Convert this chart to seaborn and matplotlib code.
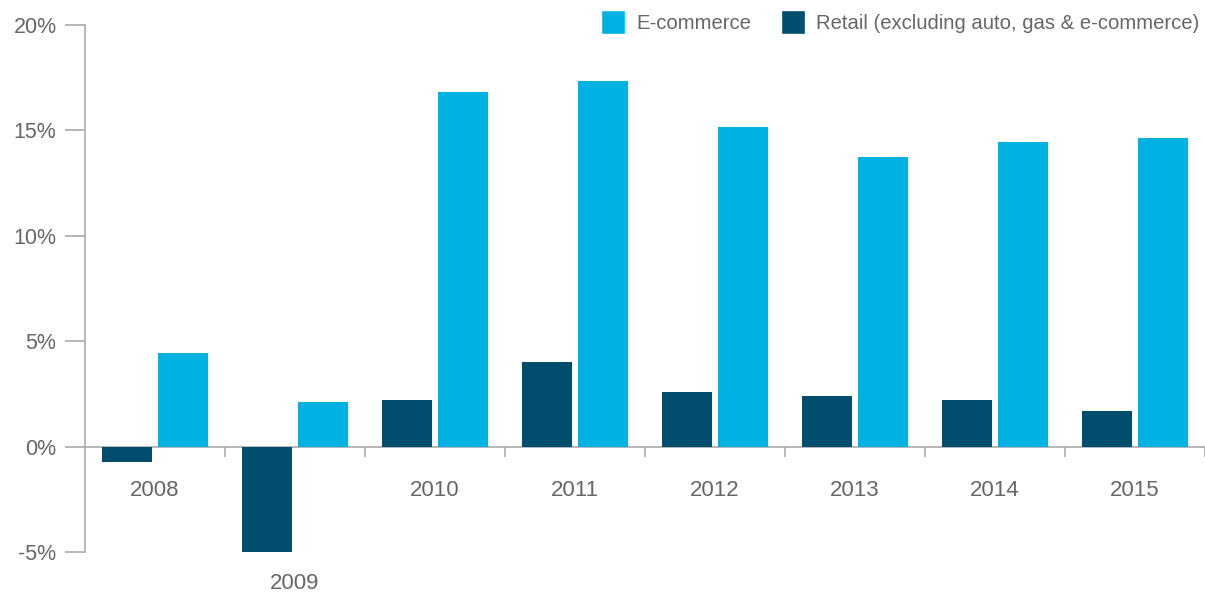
import matplotlib
matplotlib.use("Agg")
import matplotlib.pyplot as plt
from matplotlib.patches import Patch
import seaborn as sns
import pandas as pd

years = ["2008", "2009", "2010", "2011", "2012", "2013", "2014", "2015"]
ecommerce = [4.45, 2.1, 16.8, 17.35, 15.15, 13.75, 14.45, 14.65]
retail = [-0.75, -5.0, 2.2, 4.0, 2.6, 2.4, 2.2, 1.7]
y_ticks = [-5, 0, 5, 10, 15, 20]

ECOM_NAME = "E-commerce"
RETAIL_NAME = "Retail (excluding auto, gas & e-commerce)"
ECOM_COLOR = "#00b2e3"
RETAIL_COLOR = "#004d6d"
TEXT_COLOR = "#666666"
LINE_COLOR = "#aaaaaa"

df = pd.DataFrame({
    "year": years * 2,
    "growth": retail + ecommerce,
    "series": [RETAIL_NAME] * len(years) + [ECOM_NAME] * len(years),
})

sns.set_style("white")
plt.rcParams["font.family"] = ["Liberation Sans", "DejaVu Sans"]

fig = plt.figure(figsize=(12.05, 5.92), dpi=100)
ax = fig.add_axes([85 / 1205, 40 / 592, 1120 / 1205, 527 / 592])

sns.barplot(
    data=df, x="year", y="growth", hue="series",
    hue_order=[RETAIL_NAME, ECOM_NAME],
    palette=[RETAIL_COLOR, ECOM_COLOR],
    order=years, width=0.8, gap=0.09, ax=ax, legend=False,
    saturation=1, zorder=3, linewidth=0, edgecolor="none",
)

ax.set_xlim(-0.5, len(years) - 0.5)
ax.set_ylim(-5, 20)
ax.set_xlabel("")
ax.set_ylabel("")

# left axis with outward ticks
ax.set_yticks(y_ticks)
ax.set_yticklabels([f"{t}%" for t in y_ticks])
ax.tick_params(axis="y", left=True, direction="out", length=14.5, width=1.2,
               color=LINE_COLOR, labelcolor=TEXT_COLOR, labelsize=15.5, pad=6)
for side in ["top", "right"]:
    ax.spines[side].set_visible(False)
ax.spines["left"].set_color(LINE_COLOR)
ax.spines["left"].set_linewidth(1.2)

# zero baseline with category separators
ax.spines["bottom"].set_position(("data", 0))
ax.spines["bottom"].set_color(LINE_COLOR)
ax.spines["bottom"].set_linewidth(1.2)
ax.spines["bottom"].set_zorder(2)
ax.set_xticks([i + 0.5 for i in range(len(years))])
ax.set_xticklabels([])
ax.tick_params(axis="x", bottom=True, direction="out", length=7.5, width=1.2,
               color=LINE_COLOR)

# year labels go under the baseline, or under a bar that dips below it
for i, yr in enumerate(years):
    low = min(0, retail[i], ecommerce[i])
    ypos = -2.0 if low > -2 else low - 1.4
    ax.text(i, ypos - 0.1, yr, ha="center", va="center", fontsize=16,
            color=TEXT_COLOR, clip_on=False)

handles = [Patch(facecolor=ECOM_COLOR, label=ECOM_NAME),
           Patch(facecolor=RETAIL_COLOR, label=RETAIL_NAME)]
fig.legend(handles=handles, loc="upper right", bbox_to_anchor=(1.0, 0.993),
           ncol=2, frameon=False, fontsize=14.6, labelcolor=TEXT_COLOR,
           handlelength=1.15, handleheight=1.45, handletextpad=0.55,
           columnspacing=1.5, borderaxespad=0.0, borderpad=0.3)

fig.savefig("out.png", dpi=100)
